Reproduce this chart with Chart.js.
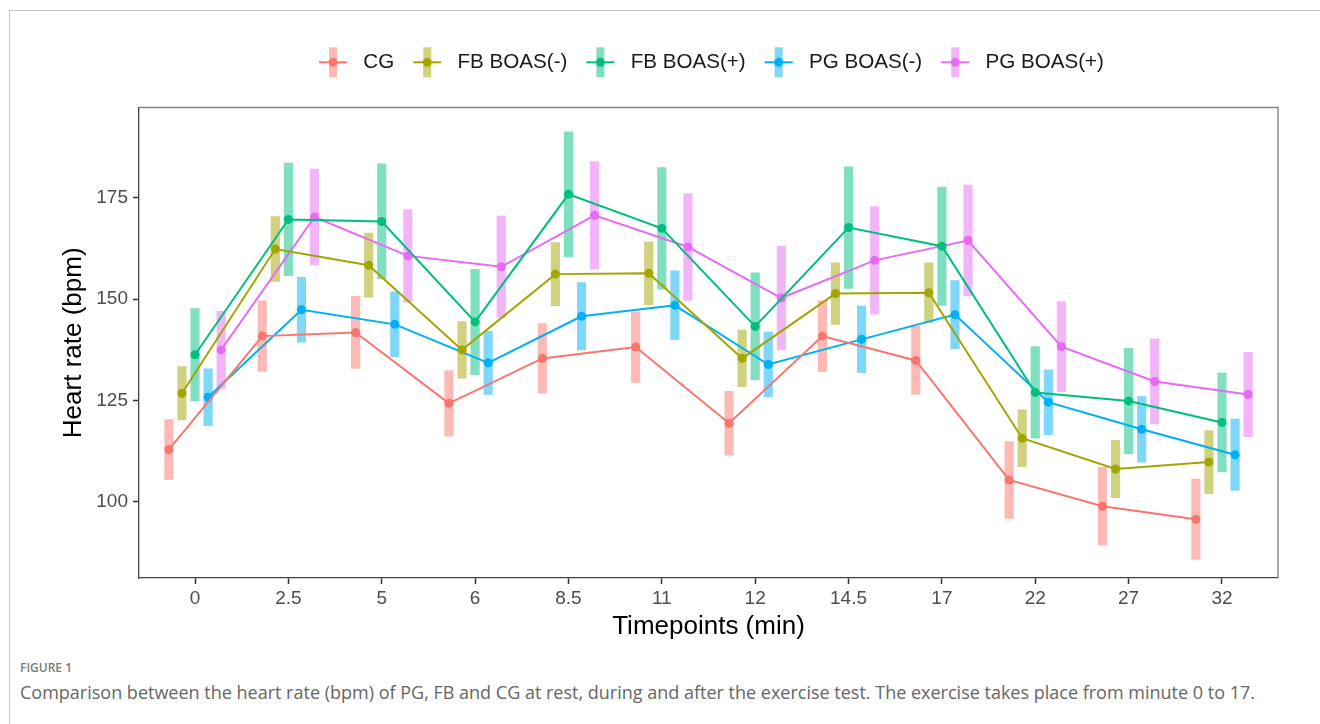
<!DOCTYPE html>
<html>
<head>
<meta charset="utf-8">
<script src="https://cdn.jsdelivr.net/npm/chart.js@4.4.1/dist/chart.umd.min.js"></script>
<style>
html, body { margin: 0; padding: 0; background: #fff; }
body { width: 1320px; height: 724px; position: relative; overflow: hidden; }
#frame { position: absolute; left: 9px; top: 10px; width: 1320px; height: 730px; border-left: 1px solid #c8c8c8; border-top: 1px solid #c8c8c8; }
#wrap { position: absolute; left: 0; top: 0; width: 1320px; height: 650px; }
.fig { position: absolute; left: 20px; top: 659px; font: 600 12px "Open Sans", sans-serif; color: #7a7a7a; }
.cap { position: absolute; left: 20px; top: 680px; font: 18px "Open Sans", sans-serif; color: #666; white-space: nowrap; }
</style>
</head>
<body>
<div id="frame"></div>
<div id="wrap"><canvas id="canvas" width="1320" height="650"></canvas></div>
<div class="fig">FIGURE 1</div>
<div class="cap">Comparison between the heart rate (bpm) of PG, FB and CG at rest, during and after the exercise test. The exercise takes place from minute 0 to 17.</div>
<script>
// timepoints (min) on the x axis
var timepoints = ['0', '2.5', '5', '6', '8.5', '11', '12', '14.5', '17', '22', '27', '32'];
var yTicks = [100, 125, 150, 175];
var groups = ['CG', 'FB BOAS(-)', 'FB BOAS(+)', 'PG BOAS(-)', 'PG BOAS(+)'];

// mean heart rate and half-width of the error bar
var cgMean   = [112.9, 140.9, 141.8, 124.3, 135.4, 138.2, 119.4, 140.9, 134.9, 105.4, 98.9, 95.7];
var cgErr    = [7.4, 8.7, 8.9, 8.1, 8.6, 8.7, 7.9, 8.8, 8.4, 9.5, 9.6, 9.9];
var fbNegMean = [126.8, 162.4, 158.4, 137.5, 156.2, 156.4, 135.4, 151.4, 151.6, 115.7, 108.1, 109.8];
var fbNegErr  = [6.6, 8.0, 7.9, 7.0, 7.8, 7.8, 7.0, 7.6, 7.4, 7.0, 7.1, 7.8];
var fbPosMean = [136.3, 169.7, 169.2, 144.4, 175.9, 167.5, 143.3, 167.7, 163.1, 127.0, 124.9, 119.6];
var fbPosErr  = [11.4, 13.9, 14.2, 13.0, 15.4, 15.0, 13.2, 15.0, 14.6, 11.3, 13.0, 12.2];
var pgNegMean = [125.8, 147.4, 143.8, 134.3, 145.8, 148.5, 133.9, 140.1, 146.2, 124.6, 117.9, 111.6];
var pgNegErr  = [7.0, 8.0, 8.0, 7.8, 8.3, 8.5, 8.0, 8.2, 8.4, 8.0, 8.1, 8.8];
var pgPosMean = [137.5, 170.3, 160.7, 158.0, 170.7, 162.9, 150.3, 159.6, 164.5, 138.3, 129.7, 126.5];
var pgPosErr  = [9.5, 11.8, 11.4, 12.5, 13.3, 13.2, 12.8, 13.3, 13.7, 11.1, 10.5, 10.4];

var means = [cgMean, fbNegMean, fbPosMean, pgNegMean, pgPosMean];
var errs = [cgErr, fbNegErr, fbPosErr, pgNegErr, pgPosErr];
var colors = ['#F8766D', '#A3A500', '#00BF7D', '#00B0F6', '#E76BF3'];
var dodge = [-0.28, -0.14, 0, 0.14, 0.28];

function fade(hex, a) {
  var n = parseInt(hex.slice(1), 16);
  return 'rgba(' + (n >> 16) + ',' + ((n >> 8) & 255) + ',' + (n & 255) + ',' + a + ')';
}

// legend key: faded bar + line + dot
function glyph(color) {
  var c = document.createElement('canvas');
  c.width = 30; c.height = 32;
  var g = c.getContext('2d');
  g.fillStyle = fade(color, 0.5);
  g.fillRect(11, 1, 8, 30);
  g.strokeStyle = color; g.lineWidth = 2;
  g.beginPath(); g.moveTo(1, 16); g.lineTo(29, 16); g.stroke();
  g.fillStyle = color;
  g.beginPath(); g.arc(15, 16, 4.5, 0, Math.PI * 2); g.fill();
  return c;
}
var glyphs = colors.map(glyph);

var datasets = [];
groups.forEach(function (name, k) {
  datasets.push({
    type: 'line',
    label: name,
    data: means[k].map(function (m, i) { return { x: i + dodge[k], y: m }; }),
    borderColor: colors[k],
    backgroundColor: colors[k],
    borderWidth: 2,
    pointRadius: 4.5,
    pointBorderWidth: 0,
    pointBackgroundColor: colors[k],
    order: 1
  });
});
groups.forEach(function (name, k) {
  datasets.push({
    type: 'bar',
    label: name + ' sd',
    data: means[k].map(function (m, i) { return { x: i + dodge[k], y: [m - errs[k][i], m + errs[k][i]] }; }),
    backgroundColor: fade(colors[k], 0.5),
    borderWidth: 0,
    barThickness: 8.5,
    grouped: false,
    order: 2
  });
});

var frame = {
  id: 'frame',
  afterDraw: function (chart) {
    var a = chart.chartArea, c = chart.ctx;
    c.save();
    c.strokeStyle = '#8a8a8a';
    c.lineWidth = 1.5;
    c.beginPath();
    c.moveTo(a.left, a.top); c.lineTo(a.right, a.top); c.lineTo(a.right, a.bottom);
    c.stroke();
    c.restore();
  }
};

var legendGap = {
  id: 'legendGap',
  beforeInit: function (chart) {
    var fit = chart.legend.fit;
    chart.legend.fit = function () {
      fit.bind(chart.legend)();
      this.height += 25;
    };
  }
};

Chart.defaults.font.family = '"Liberation Sans", Arial, sans-serif';
Chart.defaults.color = '#4d4d4d';

new Chart(document.getElementById('canvas'), {
  type: 'line',
  data: { datasets: datasets },
  plugins: [frame, legendGap],
  options: {
    responsive: false,
    animation: false,
    layout: { padding: { left: 0, right: 42, top: 39, bottom: 4 } },
    plugins: {
      tooltip: { enabled: false },
      legend: {
        position: 'top',
        fullSize: false,
        labels: {
          usePointStyle: true,
          pointStyleWidth: 40,
          padding: 13,
          color: '#1a1a1a',
          font: { size: 20.6 },
          filter: function (item) { return item.datasetIndex < 5; },
          generateLabels: function (chart) {
            var items = Chart.defaults.plugins.legend.labels.generateLabels(chart);
            items.forEach(function (it) {
              if (it.datasetIndex < 5) it.pointStyle = glyphs[it.datasetIndex];
            });
            return items;
          }
        }
      }
    },
    scales: {
      x: {
        type: 'linear',
        min: -0.6,
        max: 11.6,
        offset: false,
        afterBuildTicks: function (s) { s.ticks = timepoints.map(function (t, i) { return { value: i }; }); },
        afterFit: function (s) { s.height = 68; },
        ticks: {
          font: { size: 19 },
          color: '#4d4d4d',
          padding: 3,
          maxRotation: 0,
          callback: function (v) { return timepoints[Math.round(v)]; }
        },
        grid: { offset: false, drawOnChartArea: false, drawTicks: true, tickLength: 6, tickColor: '#333', tickWidth: 1.5 },
        border: { display: true, color: '#444', width: 1.3 },
        title: { display: true, text: 'Timepoints (min)', color: '#000', font: { size: 26 }, padding: { top: 0, bottom: 4 } }
      },
      y: {
        min: 81.2,
        max: 197.3,
        afterBuildTicks: function (s) { s.ticks = yTicks.map(function (v) { return { value: v }; }); },
        afterFit: function (s) { s.width = 139; },
        ticks: { font: { size: 19 }, color: '#4d4d4d', padding: 5 },
        grid: { drawOnChartArea: false, drawTicks: true, tickLength: 6, tickColor: '#333', tickWidth: 1.5 },
        border: { display: true, color: '#444', width: 1.3 },
        title: { display: true, text: 'Heart rate (bpm)', color: '#000', font: { size: 26 }, padding: { top: 58, bottom: 0 } }
      }
    }
  }
});
</script>
</body>
</html>
